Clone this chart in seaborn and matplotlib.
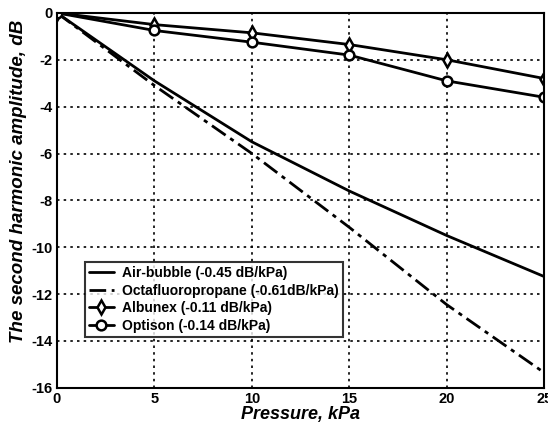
import matplotlib
matplotlib.use("Agg")
import matplotlib.pyplot as plt
import seaborn as sns
import pandas as pd

sns.set_theme(style="white")
plt.rcParams["font.family"] = ["Liberation Sans", "DejaVu Sans"]
plt.rcParams["axes.unicode_minus"] = False
plt.rcParams["text.color"] = "black"
plt.rcParams["axes.labelcolor"] = "black"
plt.rcParams["xtick.color"] = "black"
plt.rcParams["ytick.color"] = "black"

# Values
pressure = [0, 5, 10, 15, 20, 25]
air_bubble = [0, -2.9, -5.5, -7.6, -9.5, -11.25]
octafluoropropane = [0, -3.1, -6.0, -9.15, -12.45, -15.35]
albunex = [0, -0.5, -0.85, -1.35, -2.0, -2.8]
optison = [0, -0.75, -1.25, -1.8, -2.9, -3.6]

labels = ["Air-bubble (-0.45 dB/kPa)",
          "Octafluoropropane (-0.61dB/kPa)",
          "Albunex (-0.11 dB/kPa)",
          "Optison (-0.14 dB/kPa)"]
x_ticks = [0, 5, 10, 15, 20, 25]
y_ticks = [0, -2, -4, -6, -8, -10, -12, -14, -16]

series = [air_bubble, octafluoropropane, albunex, optison]
styles = [("-", None), ((0, (6, 2, 1.5, 2)), None), ("-", "d"), ("-", "o")]

fig = plt.figure(figsize=(5.48, 4.30), dpi=100)
ax = fig.add_axes([0.104, 0.098, 0.889, 0.872])

for vals, lab, (ls, mk) in zip(series, labels, styles):
    df = pd.DataFrame({"pressure": pressure, "amp": vals})
    sns.lineplot(data=df, x="pressure", y="amp", ax=ax, color="black",
                 linewidth=2, linestyle=ls, marker=mk, markersize=7,
                 markerfacecolor="white", markeredgecolor="black",
                 markeredgewidth=1.8, label=lab)

ax.set_xlim(0, 25)
ax.set_ylim(-16, 0)
ax.set_xticks(x_ticks)
ax.set_yticks(y_ticks)
ax.grid(True, color="black", linestyle=(0, (1.5, 2.5)), linewidth=1.2)
for sp in ax.spines.values():
    sp.set_color("black")
    sp.set_linewidth(1.5)
ax.tick_params(direction="in", length=4, color="black", labelsize=10.5, pad=3)
for t in ax.get_xticklabels() + ax.get_yticklabels():
    t.set_fontweight("bold")

ax.set_xlabel("Pressure, kPa", fontsize=13, fontweight="bold", style="italic", labelpad=0)
ax.set_ylabel("The second harmonic amplitude, dB", fontsize=13.5, fontweight="bold",
              style="italic")
ax.yaxis.set_label_coords(-0.062, 0.55)

leg = ax.legend(loc="lower left", bbox_to_anchor=(0.057, 0.136), frameon=True,
                fancybox=False, edgecolor="black", fontsize=10, handlelength=1.8,
                borderpad=0.3, labelspacing=0.25, handletextpad=0.6,
                borderaxespad=0)
leg.get_frame().set_linewidth(1.5)
for t in leg.get_texts():
    t.set_fontweight("bold")

fig.savefig("out.png", dpi=100)
